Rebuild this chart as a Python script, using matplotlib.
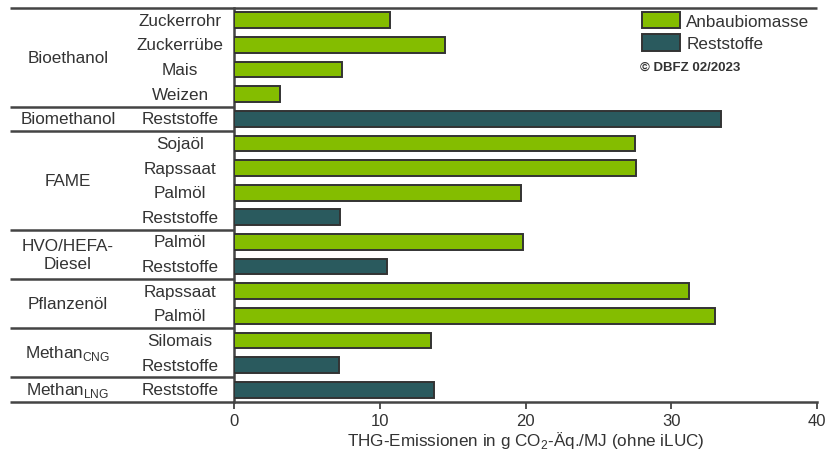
import matplotlib.pyplot as plt
import matplotlib.patches as mpatches

plt.rcParams['font.family'] = ['Liberation Sans', 'DejaVu Sans']

# Daten
groups = ['Bioethanol', 'Biomethanol', 'FAME', 'HVO/HEFA-\nDiesel', 'Pflanzenöl',
          r'Methan$_\mathregular{CNG}$', r'Methan$_\mathregular{LNG}$']
group_sizes = [4, 1, 4, 2, 2, 2, 1]
labels = ['Zuckerrohr', 'Zuckerrübe', 'Mais', 'Weizen',
          'Reststoffe',
          'Sojaöl', 'Rapssaat', 'Palmöl', 'Reststoffe',
          'Palmöl', 'Reststoffe',
          'Rapssaat', 'Palmöl',
          'Silomais', 'Reststoffe',
          'Reststoffe']
values = [10.7, 14.5, 7.4, 3.15,
          33.4,
          27.5, 27.6, 19.7, 7.3,
          19.8, 10.5,
          31.2, 33.0,
          13.5, 7.2,
          13.7]
kinds = ['A', 'A', 'A', 'A',
         'R',
         'A', 'A', 'A', 'R',
         'A', 'R',
         'A', 'A',
         'A', 'R',
         'R']
kind_names = {'A': 'Anbaubiomasse', 'R': 'Reststoffe'}
kind_colors = {'A': '#84bd00', 'R': '#2a5a5e'}

txt = '#333333'
line_col = '#444444'

fig = plt.figure(figsize=(8.26, 4.56), dpi=100)
ax = fig.add_axes([234 / 826, 1 - 403 / 456, 583 / 826, 394 / 456])

y = list(range(len(values)))
ax.barh(y, values, height=0.64, color=[kind_colors[k] for k in kinds],
        edgecolor='#333333', linewidth=1.4, zorder=3)

ax.set_xlim(0, 40)
ax.set_ylim(len(values) - 0.5, -0.5)
ax.set_xticks([0, 10, 20, 30, 40])
ax.set_yticks([])
ax.tick_params(axis='x', direction='out', length=5, width=1.3, color=line_col,
               labelsize=12, labelcolor=txt, pad=3)
for s in ['top', 'right']:
    ax.spines[s].set_visible(False)
for s in ['left', 'bottom']:
    ax.spines[s].set_color(line_col)
    ax.spines[s].set_linewidth(1.8)

ax.set_xlabel(r'THG-Emissionen in g CO$_\mathregular{2}$-Äq./MJ (ohne iLUC)',
              fontsize=12.3, color=txt, labelpad=1)

# Beschriftungen links
trans = ax.get_yaxis_transform()
x0 = (10 - 234) / 583
for i, lab in enumerate(labels):
    ax.text(-0.0926, i, lab, transform=trans, ha='center', va='center',
            fontsize=12.3, color=txt)

start = 0
bounds = [-0.5]
for g, n in zip(groups, group_sizes):
    ax.text(-0.285, start + (n - 1) / 2, g, transform=trans, ha='center',
            va='center', fontsize=12.3, color=txt, linespacing=1.25)
    start += n
    bounds.append(start - 0.5)

for j, b in enumerate(bounds):
    x1 = 1.0 if j == 0 else 0
    ax.plot([x0, x1], [b, b], transform=trans, color=line_col, lw=1.8,
            clip_on=False, solid_capstyle='butt')

# Legende
handles = [mpatches.Patch(facecolor=kind_colors[k], edgecolor='#333333',
                          linewidth=1.4, label=kind_names[k]) for k in ['A', 'R']]
fig.legend(handles=handles, loc='upper left', bbox_to_anchor=(642 / 826, 1 - 13 / 456),
           frameon=False, fontsize=12.3, handlelength=2.2, handleheight=1.1,
           labelspacing=0.3, handletextpad=0.4, borderpad=0, borderaxespad=0,
           labelcolor=txt)
fig.text(640 / 826, 1 - 68 / 456, '© DBFZ 02/2023', fontsize=9.5,
         fontweight='bold', color=txt, va='center', ha='left')

fig.savefig('out.png', dpi=100)
